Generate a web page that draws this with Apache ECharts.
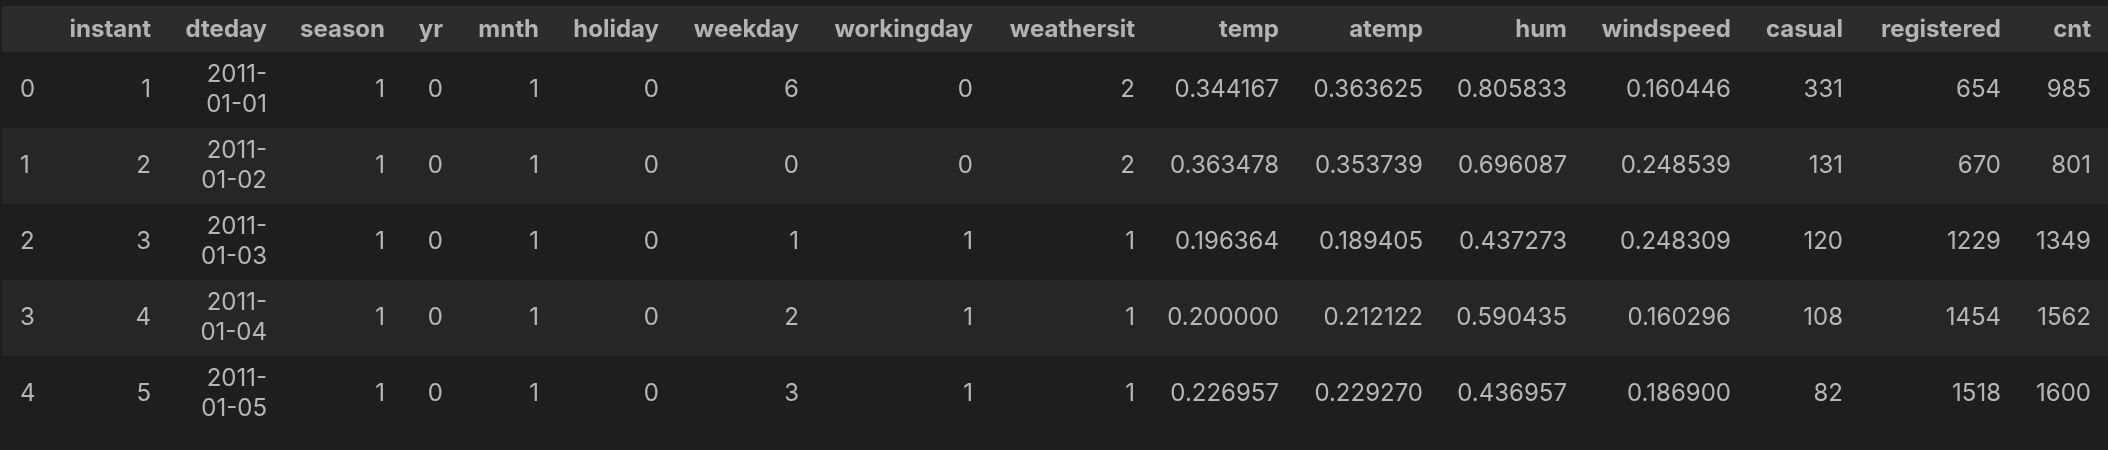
<!DOCTYPE html>
<html>
<head>
<meta charset="utf-8">
<script src="https://cdn.jsdelivr.net/npm/echarts@6/dist/echarts.min.js"></script>
<style>
html,body{margin:0;padding:0;background:#1e1e1e;}
#chart{width:2108px;height:450px;}
</style>
</head>
<body>
<div id="chart"></div>
<script>
// ---- data ----
const columns = ['instant','dteday','season','yr','mnth','holiday','weekday','workingday','weathersit','temp','atemp','hum','windspeed','casual','registered','cnt'];
const rowIndex = [0, 1, 2, 3, 4];
const instant = [1, 2, 3, 4, 5];
const dteday = ['2011-01-01', '2011-01-02', '2011-01-03', '2011-01-04', '2011-01-05'];
const season = [1, 1, 1, 1, 1];
const yr = [0, 0, 0, 0, 0];
const mnth = [1, 1, 1, 1, 1];
const holiday = [0, 0, 0, 0, 0];
const weekday = [6, 0, 1, 2, 3];
const workingday = [0, 0, 1, 1, 1];
const weathersit = [2, 2, 1, 1, 1];
const temp = [0.344167, 0.363478, 0.196364, 0.200000, 0.226957];
const atemp = [0.363625, 0.353739, 0.189405, 0.212122, 0.229270];
const hum = [0.805833, 0.696087, 0.437273, 0.590435, 0.436957];
const windspeed = [0.160446, 0.248539, 0.248309, 0.160296, 0.186900];
const casual = [331, 131, 120, 108, 82];
const registered = [654, 670, 1229, 1454, 1518];
const cnt = [985, 801, 1349, 1562, 1600];

const floatCols = ['temp', 'atemp', 'hum', 'windspeed'];
const colValues = {instant, dteday, season, yr, mnth, holiday, weekday, workingday, weathersit, temp, atemp, hum, windspeed, casual, registered, cnt};

// ---- layout (pixel-space axes) ----
const W = 2108, H = 450;
const indexLeft = 20;
const colRight = [151, 267, 385, 443, 539, 659, 799, 973, 1135, 1279, 1423, 1567, 1731, 1843, 2001, 2091];
const headerTop = 6, headerBottom = 52, rowH = 76;
const headerCenter = 30;
const rowCenter = i => headerBottom + rowH * i + rowH / 2;

function fmt(col, v) {
  if (floatCols.includes(col)) return v.toFixed(6);
  if (col === 'dteday') return String(v).replace(/^(\d{4}-)/, '$1\n');
  return String(v);
}

const cells = [];
// header
columns.forEach((c, ci) => {
  cells.push({
    value: [colRight[ci], headerCenter],
    name: c,
    label: {fontWeight: 'bold', color: '#d6d6d6'}
  });
});
// body
rowIndex.forEach((ri, r) => {
  cells.push({
    value: [indexLeft, rowCenter(r)],
    name: String(ri),
    label: {position: 'right'}
  });
  columns.forEach((c, ci) => {
    cells.push({
      value: [colRight[ci], rowCenter(r)],
      name: fmt(c, colValues[c][r])
    });
  });
});

const stripeAreas = [
  [{xAxis: 2, yAxis: headerTop, itemStyle: {color: '#2c2c2c'}}, {xAxis: W, yAxis: headerBottom}]
];
rowIndex.forEach((ri, r) => {
  if (r % 2 === 1) {
    stripeAreas.push([
      {xAxis: 2, yAxis: headerBottom + rowH * r, itemStyle: {color: '#262626'}},
      {xAxis: W, yAxis: headerBottom + rowH * (r + 1)}
    ]);
  }
});

const chart = echarts.init(document.getElementById('chart'), null, {renderer: 'canvas'});
chart.setOption({
  backgroundColor: '#1e1e1e',
  animation: false,
  grid: {left: 0, right: 0, top: 0, bottom: 0},
  xAxis: {type: 'value', min: 0, max: W, show: false},
  yAxis: {type: 'value', min: 0, max: H, inverse: true, show: false},
  series: [{
    type: 'scatter',
    symbolSize: 0,
    silent: true,
    data: cells,
    label: {
      show: true,
      position: 'left',
      distance: 0,
      formatter: p => p.name,
      fontFamily: 'Inter',
      fontSize: 24,
      lineHeight: 30,
      color: '#dcdcdc'
    },
    markArea: {
      silent: true,
      data: stripeAreas
    }
  }]
});
</script>
</body>
</html>
